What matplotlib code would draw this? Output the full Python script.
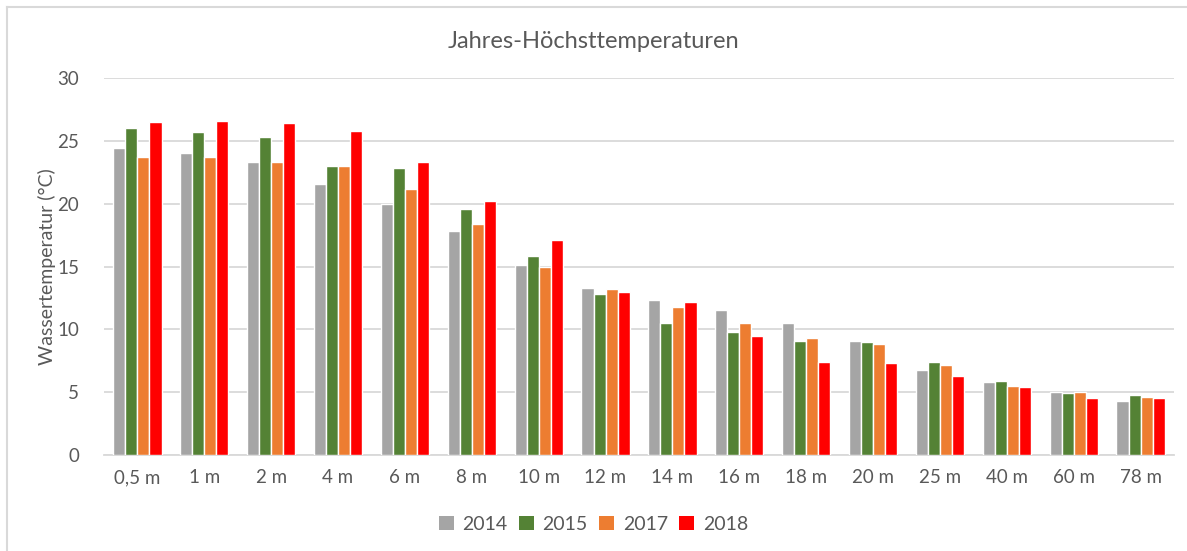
"""
Jahres-Höchsttemperaturen: grouped bars of the annual maximum water
temperature per depth for 2014, 2015, 2017 and 2018.
"""

import numpy as np
import matplotlib
matplotlib.use("Agg")
import matplotlib.pyplot as plt
from matplotlib.lines import Line2D
from matplotlib.patches import Patch


DEPTHS = ["0,5 m", "1 m", "2 m", "4 m", "6 m", "8 m", "10 m", "12 m",
          "14 m", "16 m", "18 m", "20 m", "25 m", "40 m", "60 m", "78 m"]

YEARS = ["2014", "2015", "2017", "2018"]

T_2014 = [24.4, 24.0, 23.3, 21.6, 20.0, 17.8, 15.1, 13.3,
          12.3, 11.5, 10.5, 9.1, 6.8, 5.8, 5.0, 4.3]
T_2015 = [26.0, 25.7, 25.3, 23.0, 22.8, 19.6, 15.8, 12.8,
          10.5, 9.8, 9.1, 9.0, 7.4, 5.9, 4.9, 4.8]
T_2017 = [23.7, 23.7, 23.3, 23.0, 21.2, 18.4, 15.0, 13.2,
          11.8, 10.5, 9.3, 8.8, 7.2, 5.5, 5.0, 4.6]
T_2018 = [26.5, 26.6, 26.4, 25.8, 23.3, 20.2, 17.1, 13.0,
          12.2, 9.5, 7.4, 7.3, 6.3, 5.4, 4.5, 4.5]

COLORS = ["#a5a5a5", "#548235", "#ed7d31", "#ff0000"]
TEXT_COLOR = "#595959"
GRID_COLOR = "#d9d9d9"


def main():
    plt.rcParams["font.family"] = ["Lato", "DejaVu Sans"]

    fig = plt.figure(figsize=(11.87, 5.51), dpi=100)
    ax = fig.add_axes([104 / 1187, 96 / 551, 1070 / 1187, 377 / 551])

    series = [T_2014, T_2015, T_2017, T_2018]
    x = np.arange(len(DEPTHS))
    width = 0.18
    for i, (vals, color) in enumerate(zip(series, COLORS)):
        ax.bar(x + (i - 1.5) * width, vals, width, color=color,
               edgecolor="white", linewidth=1.0, zorder=3)

    ax.set_xlim(-0.5, len(DEPTHS) - 0.5)
    ax.set_ylim(0, 30)
    ax.set_yticks(range(0, 31, 5))
    ax.set_xticks(x)
    ax.set_xticklabels(DEPTHS)
    ax.yaxis.grid(True, color=GRID_COLOR, linewidth=1.3, zorder=0)
    ax.tick_params(axis="both", length=0, labelsize=13.5,
                   labelcolor=TEXT_COLOR)
    ax.tick_params(axis="y", pad=18)
    ax.tick_params(axis="x", pad=10)
    for side in ["top", "right", "left"]:
        ax.spines[side].set_visible(False)
    ax.spines["bottom"].set_color(GRID_COLOR)
    ax.spines["bottom"].set_linewidth(1.3)

    ax.set_ylabel("Wassertemperatur (°C)", fontsize=14, color=TEXT_COLOR,
                  labelpad=1)
    fig.text(0.5, 1 - 42 / 551, "Jahres-Höchsttemperaturen", ha="center",
             va="center", fontsize=17, color=TEXT_COLOR)

    handles = [Patch(facecolor=c, edgecolor="none") for c in COLORS]
    fig.legend(handles, YEARS, loc="center", bbox_to_anchor=(0.5, 1 - 524 / 551),
               ncol=4, frameon=False, fontsize=14, labelcolor=TEXT_COLOR,
               handlelength=0.75, handleheight=0.75, handletextpad=0.45,
               columnspacing=0.6)

    # light frame on the left and top, as in the original chart
    fig.add_artist(Line2D([7 / 1187, 7 / 1187], [0, 1 - 7 / 551],
                          color=GRID_COLOR, linewidth=1.5))
    fig.add_artist(Line2D([7 / 1187, 1], [1 - 7 / 551, 1 - 7 / 551],
                          color=GRID_COLOR, linewidth=1.5))

    fig.savefig("out.png", dpi=100)
    plt.close(fig)


if __name__ == "__main__":
    main()
